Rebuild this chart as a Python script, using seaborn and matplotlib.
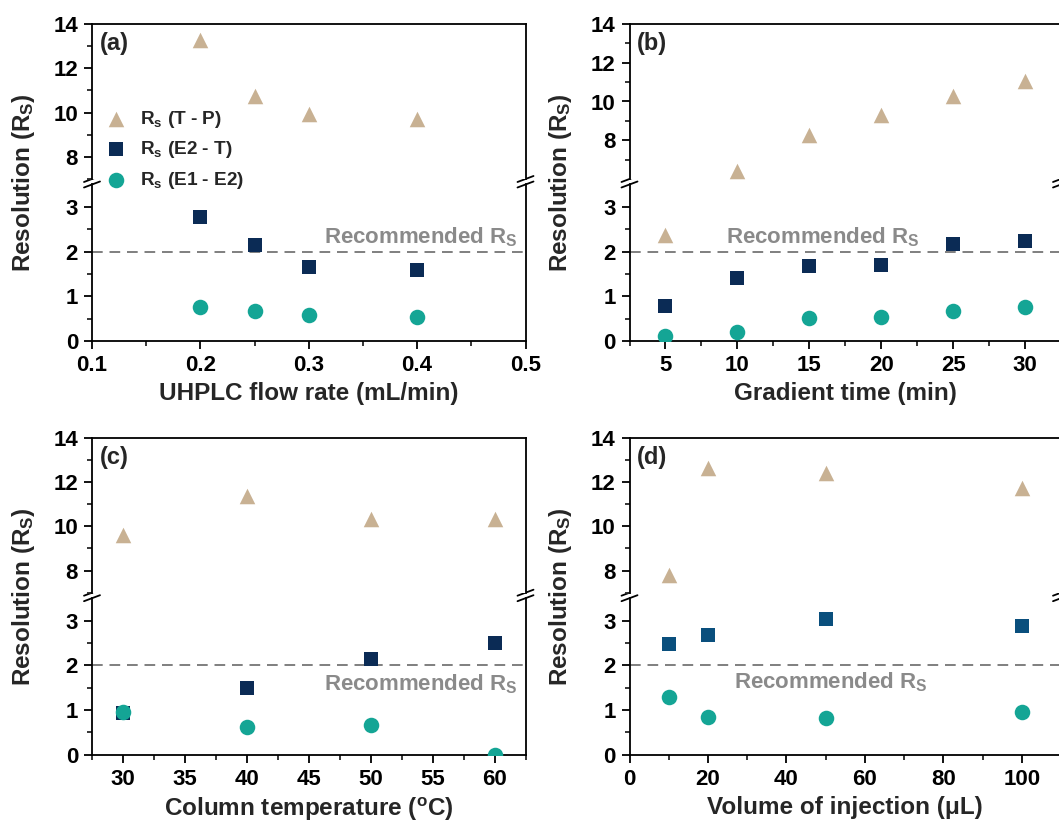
import numpy as np
import pandas as pd
import matplotlib
matplotlib.use("Agg")
import matplotlib.pyplot as plt
import seaborn as sns
from matplotlib.lines import Line2D
from matplotlib.ticker import FixedLocator

# ---------------- data ----------------
flow_x = [0.2, 0.25, 0.3, 0.4]
flow_tp = [13.28, 10.75, 9.92, 9.73]
flow_e2t = [2.77, 2.14, 1.66, 1.58]
flow_e1e2 = [0.75, 0.67, 0.58, 0.54]

grad_x = [5, 10, 15, 20, 25, 30]
grad_tp = [2.36, 6.41, 8.27, 9.29, 10.27, 11.05]
grad_e2t = [0.78, 1.40, 1.67, 1.71, 2.16, 2.24]
grad_e1e2 = [0.11, 0.20, 0.52, 0.53, 0.68, 0.76]

temp_x = [30, 40, 50, 60]
temp_tp = [9.59, 11.36, 10.32, 10.32]
temp_e2t = [0.93, 1.49, 2.13, 2.49]
temp_e1e2 = [0.96, 0.63, 0.67, 0.0]

vol_x = [10, 20, 50, 100]
vol_tp = [7.78, 12.65, 12.4, 11.72]
vol_e2t = [2.48, 2.67, 3.04, 2.88]
vol_e1e2 = [1.30, 0.85, 0.83, 0.95]

series_labels = [r"$\mathrm{R_s}$ (T - P)", r"$\mathrm{R_s}$ (E2 - T)", r"$\mathrm{R_s}$ (E1 - E2)"]
panel_letters = ["(a)", "(b)", "(c)", "(d)"]
x_labels = ["UHPLC flow rate (mL/min)", "Gradient time (min)",
            r"Column temperature ($^\mathrm{o}$C)", "Volume of injection (μL)"]
y_label = r"Resolution ($\mathrm{R_S}$)"
rec_label = r"Recommended $\mathrm{R_S}$"
recommended = 2.0

# ---------------- style ----------------
sns.set_theme(style="ticks")
plt.rcParams["font.family"] = ["Liberation Sans", "DejaVu Sans"]
plt.rcParams["font.weight"] = "bold"
plt.rcParams["mathtext.fontset"] = "custom"
plt.rcParams["mathtext.rm"] = "Liberation Sans:bold"
plt.rcParams["mathtext.it"] = "Liberation Sans:bold"
plt.rcParams["mathtext.bf"] = "Liberation Sans:bold"
plt.rcParams["mathtext.default"] = "rm"

TAN = "#c8b193"
NAVY = "#0b2b55"
NAVY_D = "#0a4f7d"
TEAL = "#14a595"
GRAY = "#8a8a8a"

W, H = 1059, 821
fig = plt.figure(figsize=(W / 100, H / 100), dpi=100)


def frac(l, t, w, h):
    return [l / W, 1 - (t + h) / H, w / W, h / H]


col_left = [92, 629.5]
col_w = [433.5, 431.5]
row_top = [24, 437.7]
up_h, gap, lo_h = 155.0, 5.5, 156.5

panels = [
    dict(x=flow_x, tp=flow_tp, e2t=flow_e2t, e1e2=flow_e1e2, xlim=(0.1, 0.5),
         xt=[0.1, 0.2, 0.3, 0.4, 0.5], xm=[0.15, 0.25, 0.35, 0.45], ylo_up=7,
         xfmt="{:.1f}", sqc=NAVY, rec=(0.314, 2.33)),
    dict(x=grad_x, tp=grad_tp, e2t=grad_e2t, e1e2=grad_e1e2, xlim=(2.5, 32.5),
         xt=[5, 10, 15, 20, 25, 30], xm=[2.5, 7.5, 12.5, 17.5, 22.5, 27.5, 32.5], ylo_up=6,
         xfmt="{:d}", sqc=NAVY, rec=(9.2, 2.32)),
    dict(x=temp_x, tp=temp_tp, e2t=temp_e2t, e1e2=temp_e1e2, xlim=(27.5, 62.5),
         xt=[30, 35, 40, 45, 50, 55, 60], xm=[27.5, 32.5, 37.5, 42.5, 47.5, 52.5, 57.5, 62.5], ylo_up=7,
         xfmt="{:d}", sqc=NAVY, rec=(46.2, 1.58)),
    dict(x=vol_x, tp=vol_tp, e2t=vol_e2t, e1e2=vol_e1e2, xlim=(0, 110),
         xt=[0, 20, 40, 60, 80, 100], xm=[10, 30, 50, 70, 90, 110], ylo_up=7,
         xfmt="{:d}", sqc=NAVY_D, rec=(26.6, 1.62)),
]

spine_lw = 1.3

for i, p in enumerate(panels):
    r, c = divmod(i, 2)
    L, Wd, T = col_left[c], col_w[c], row_top[r]
    ax_up = fig.add_axes(frac(L, T, Wd, up_h))
    ax_lo = fig.add_axes(frac(L, T + up_h + gap, Wd, lo_h))
    ax_up.set_zorder(2)
    ax_lo.set_zorder(1)

    df = pd.DataFrame({"x": p["x"], "tp": p["tp"], "e2t": p["e2t"], "e1e2": p["e1e2"]})
    for ax in (ax_up, ax_lo):
        ax.axhline(recommended, color="#7f7f7f", lw=1.4, ls=(0, (5.5, 3.5)), zorder=1)
        sns.scatterplot(data=df, x="x", y="tp", ax=ax, marker="^", s=125, color=TAN,
                        linewidth=0, label=series_labels[0], legend=False, zorder=3)
        sns.scatterplot(data=df, x="x", y="e2t", ax=ax, marker="s", s=100, color=p["sqc"],
                        linewidth=0, label=series_labels[1], legend=False, zorder=4)
        sns.scatterplot(data=df, x="x", y="e1e2", ax=ax, marker="o", s=125, color=TEAL,
                        linewidth=0, label=series_labels[2], legend=False, zorder=5)
        ax.set_xlim(*p["xlim"])
        ax.set_xlabel("")
        ax.set_ylabel("")
        for s in ax.spines.values():
            s.set_linewidth(spine_lw)
            s.set_color("black")
        ax.tick_params(axis="both", which="major", direction="out", length=6, width=spine_lw,
                       labelsize=16, pad=4, colors="black")
        ax.tick_params(axis="both", which="minor", direction="out", length=3.5, width=spine_lw)
        ax.tick_params(axis="y", which="both", right=False)
        ax.tick_params(axis="x", which="both", top=False)

    ax_up.set_ylim(p["ylo_up"], 14)
    ax_up.yaxis.set_major_locator(FixedLocator([8, 10, 12, 14]))
    ax_up.yaxis.set_minor_locator(FixedLocator([7, 9, 11, 13]))
    ax_up.spines["bottom"].set_visible(False)
    ax_up.tick_params(axis="x", which="both", bottom=False, labelbottom=False)

    ax_lo.set_ylim(0, 3.5)
    ax_lo.yaxis.set_major_locator(FixedLocator([0, 1, 2, 3]))
    ax_lo.yaxis.set_minor_locator(FixedLocator([0.5, 1.5, 2.5]))
    ax_lo.spines["top"].set_visible(False)
    ax_lo.xaxis.set_major_locator(FixedLocator(p["xt"]))
    ax_lo.xaxis.set_minor_locator(FixedLocator(p["xm"]))
    ax_lo.set_xticklabels([p["xfmt"].format(v) for v in p["xt"]])
    ax_lo.set_xlabel(x_labels[i], fontsize=17.5, fontweight="bold", labelpad=4.5)

    for lab in ax_up.get_yticklabels() + ax_lo.get_yticklabels() + ax_lo.get_xticklabels():
        lab.set_fontweight("bold")

    ax_lo.text(p["rec"][0], p["rec"][1], rec_label, color=GRAY, fontsize=16,
               fontweight="bold", ha="left", va="center", zorder=2)
    ax_up.text(0.018, 0.875, panel_letters[i], transform=ax_up.transAxes, fontsize=17,
               fontweight="bold", ha="left", va="center")

    # y label
    fig.text((23.5 if c == 0 else 560) / W, 1 - (T + (up_h + gap + lo_h) / 2) / H, y_label,
             rotation=90, ha="center", va="center", fontsize=17.5, fontweight="bold")

    # break marks
    yb_up = T + up_h
    yb_lo = T + up_h + gap
    for xs in (L, L + Wd):
        for yc in (yb_up, yb_lo):
            fig.add_artist(Line2D([(xs - 8) / W, (xs + 8) / W],
                                  [1 - (yc + 3) / H, 1 - (yc - 3) / H],
                                  transform=fig.transFigure, color="black", lw=1.3))

    if i == 0:
        handles = ax_up.collections[:3]
        leg = ax_up.legend(handles=handles, labels=series_labels, loc="upper left",
                           bbox_to_anchor=(0.028, 0.453), frameon=False, borderpad=0,
                           borderaxespad=0, handlelength=1.2, handletextpad=0.7,
                           labelspacing=0.5, prop={"size": 13.7, "weight": "bold"},
                           scatterpoints=1)
        leg.set_zorder(10)

fig.savefig("out.png", dpi=100)
